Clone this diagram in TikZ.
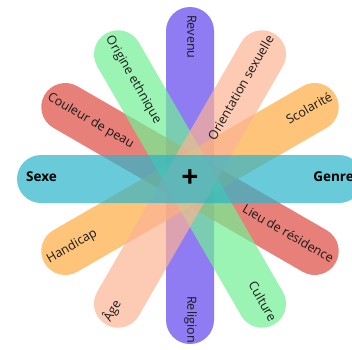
\documentclass[tikz,border=0pt]{standalone}
\usepackage{fontspec}
\setmainfont{Open Sans}
\definecolor{cCyan}{RGB}{42,181,202}
\definecolor{cPurple}{RGB}{95,68,236}
\definecolor{cGreen}{RGB}{114,240,148}
\definecolor{cPeach}{RGB}{252,179,148}
\definecolor{cOrange}{RGB}{254,171,65}
\definecolor{cRed}{RGB}{222,74,65}
\definecolor{cText}{RGB}{25,25,25}
\newcommand\drawpetal[5]{%
  \begin{scope}[shift={(#4,#5)}, rotate=#1]
    \fill[petal, fill=#3] (-#2+24,-24) -- (#2-24,-24)
      arc[start angle=-90, end angle=90, radius=24] -- (-#2+24,24)
      arc[start angle=90, end angle=270, radius=24] -- cycle;
  \end{scope}}
\tikzset{
  petal/.style={fill opacity=0.7},
  lab/.style={inner sep=0pt, text height=0.75em, text depth=0.2em,
    font=\fontsize{12.6}{15}\selectfont, text=cText},
  blab/.style={lab, font=\fontsize{13.5}{16}\selectfont\bfseries, text=black},
}
\begin{document}
\begin{tikzpicture}[x=1pt,y=1pt]
\useasboundingbox (0,0) rectangle (352,-349);
\clip (0,0) rectangle (352,-349);
\coordinate (C) at (190,-179);
% petals
\drawpetal{90}{168.5}{cPurple}{190}{-175.5}
\drawpetal{150}{168}{cRed}{190}{-179}
\drawpetal{30}{168}{cOrange}{190}{-179}
\drawpetal{120}{168}{cGreen}{190}{-179}
\drawpetal{60}{168}{cPeach}{190}{-179}
\drawpetal{0}{173}{cCyan}{190}{-179}
% labels
\node[blab, anchor=west] (sexe) at ([shift={(180:164)}]C) {Sexe};
\node[blab, anchor=east] (genre) at ([shift={(0:164)}]C) {Genre};
\node[lab, rotate=30, anchor=east] (scol) at ([shift={(30:164)}]C) {Scolarité};
\node[lab, rotate=30, anchor=west] (hand) at ([shift={(210:164)}]C) {Handicap};
\node[lab, rotate=60, anchor=east] (orient) at ([shift={(60:164)}]C) {Orientation sexuelle};
\node[lab, rotate=60, anchor=west] (age) at ([shift={(240:164)}]C) {Âge};
\node[lab, rotate=-90, anchor=west] (rev) at ([shift={(90:164)}]C) {Revenu};
\node[lab, rotate=-90, anchor=east] (rel) at ([shift={(270:164)}]C) {Religion};
\node[lab, rotate=-60, anchor=west] (orig) at ([shift={(120:164)}]C) {Origine ethnique};
\node[lab, rotate=-60, anchor=east] (cult) at ([shift={(300:164)}]C) {Culture};
\node[lab, rotate=-30, anchor=west] (coul) at ([shift={(150:164)}]C) {Couleur de peau};
\node[lab, rotate=-30, anchor=east] (lieu) at ([shift={(330:164)}]C) {Lieu de résidence};
\node[inner sep=0pt, font=\fontsize{30}{30}\selectfont\bfseries, text=black] (plus) at (C) {+};
\end{tikzpicture}
\end{document}
